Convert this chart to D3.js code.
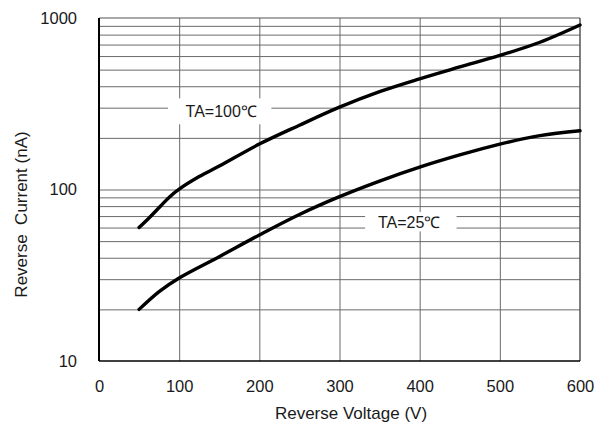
<!DOCTYPE html>
<html>
<head>
<meta charset="utf-8">
<script src="https://cdn.jsdelivr.net/npm/d3@7"></script>
<style>
  body { margin: 0; background: #fff; }
  svg { display: block; font-family: "Liberation Sans", Arial, sans-serif; }
</style>
</head>
<body>
<svg id="chart" width="602" height="430"></svg>
<script>
// Reverse current vs reverse voltage, two temperatures
const voltage100 = [50, 63, 76, 88, 100, 125, 150, 200, 250, 300, 350, 400, 450, 500, 550, 600];
const current100 = [60, 68.7, 79.3, 90.5, 100.5, 119, 137, 184, 237, 302, 372, 442, 518, 605, 722, 910];
const voltage25 = [50, 75, 100, 150, 200, 250, 300, 350, 400, 450, 500, 550, 600];
const current25 = [20, 25.4, 30.5, 40.6, 54.3, 71.5, 90.8, 112, 135, 159, 184, 206, 220];

const xTicks = [0, 100, 200, 300, 400, 500, 600];
const yTicks = [10, 100, 1000];
const yGrid = [20, 30, 40, 50, 60, 70, 80, 90, 100, 200, 300, 400, 500, 600, 700, 800, 900];

const margin = { top: 18, right: 22, bottom: 69, left: 99 };
const W = 602, H = 430;
const width = W - margin.left - margin.right;
const height = H - margin.top - margin.bottom;

const svg = d3.select('#chart');
const g = svg.append('g')
  .attr('transform', `translate(${margin.left},${margin.top})`);

const x = d3.scaleLinear().domain([0, 600]).range([0, width]);
const y = d3.scaleLog().domain([10, 1000]).range([height, 0]);

// horizontal grid
g.append('g')
  .call(d3.axisLeft(y).tickValues(yGrid).tickSize(-width).tickFormat(''))
  .call(a => a.select('.domain').remove())
  .selectAll('line')
  .attr('stroke', '#6a6a6a')
  .attr('stroke-width', 1);

// vertical grid
g.append('g')
  .attr('transform', `translate(0,${height})`)
  .call(d3.axisBottom(x).tickValues([100, 200, 300, 400, 500]).tickSize(-height).tickFormat(''))
  .call(a => a.select('.domain').remove())
  .selectAll('line')
  .attr('stroke', '#6a6a6a')
  .attr('stroke-width', 1);

// frame: top and right grey, left and bottom black
g.append('line').attr('x1', 0).attr('x2', width).attr('y1', 0).attr('y2', 0)
  .attr('stroke', '#555').attr('stroke-width', 1.2);
g.append('line').attr('x1', width).attr('x2', width).attr('y1', 0).attr('y2', height)
  .attr('stroke', '#555').attr('stroke-width', 1.5);
g.append('line').attr('x1', 0).attr('x2', 0).attr('y1', 0).attr('y2', height)
  .attr('stroke', '#000').attr('stroke-width', 2);
g.append('line').attr('x1', 0).attr('x2', width).attr('y1', height).attr('y2', height)
  .attr('stroke', '#000').attr('stroke-width', 1.6);

// label backgrounds (cover the grid behind text)
g.append('rect')
  .attr('x', x(86)).attr('y', y(340))
  .attr('width', x(215) - x(86)).attr('height', y(240) - y(340))
  .attr('fill', '#fff');
g.append('rect')
  .attr('x', x(332)).attr('y', y(74))
  .attr('width', x(446) - x(332)).attr('height', y(57) - y(74))
  .attr('fill', '#fff');

// curves
const line = d3.line()
  .x(d => x(d[0]))
  .y(d => y(d[1]))
  .curve(d3.curveCatmullRom.alpha(0.5));

g.append('path')
  .datum(d3.zip(voltage100, current100))
  .attr('d', line)
  .attr('fill', 'none')
  .attr('stroke', '#000')
  .attr('stroke-width', 3.4)
  .attr('stroke-linecap', 'round');

g.append('path')
  .datum(d3.zip(voltage25, current25))
  .attr('d', line)
  .attr('fill', 'none')
  .attr('stroke', '#000')
  .attr('stroke-width', 3.4)
  .attr('stroke-linecap', 'round');

// curve labels
g.append('text')
  .attr('x', x(108)).attr('y', y(285))
  .attr('dy', '0.35em')
  .style('font-size', '16px')
  .style('fill', '#1a1a1a')
  .text('TA=100℃');

g.append('text')
  .attr('x', x(348)).attr('y', y(64.5))
  .attr('dy', '0.35em')
  .style('font-size', '16px')
  .style('fill', '#1a1a1a')
  .text('TA=25℃');

// tick labels
g.append('g')
  .call(d3.axisLeft(y).tickValues(yTicks).tickSize(0).tickPadding(22).tickFormat(d3.format('d')))
  .call(a => a.select('.domain').remove())
  .selectAll('text')
  .style('font-size', '16.5px')
  .style('font-family', '"Liberation Sans", Arial, sans-serif')
  .style('fill', '#1a1a1a');

g.append('g')
  .attr('transform', `translate(0,${height})`)
  .call(d3.axisBottom(x).tickValues(xTicks).tickSize(0).tickPadding(19).tickFormat(d3.format('d')))
  .call(a => a.select('.domain').remove())
  .selectAll('text')
  .style('font-size', '16.5px')
  .style('font-family', '"Liberation Sans", Arial, sans-serif')
  .style('fill', '#1a1a1a');

// axis titles
svg.append('text')
  .attr('x', 351)
  .attr('y', 419)
  .attr('text-anchor', 'middle')
  .style('font-size', '17px')
  .style('fill', '#1a1a1a')
  .text('Reverse Voltage (V)');

svg.append('text')
  .attr('transform', 'translate(27,214.5) rotate(-90)')
  .attr('text-anchor', 'middle')
  .attr('xml:space', 'preserve')
  .style('white-space', 'pre')
  .style('font-size', '17px')
  .style('fill', '#1a1a1a')
  .text('Reverse  Current (nA)');
</script>
</body>
</html>
